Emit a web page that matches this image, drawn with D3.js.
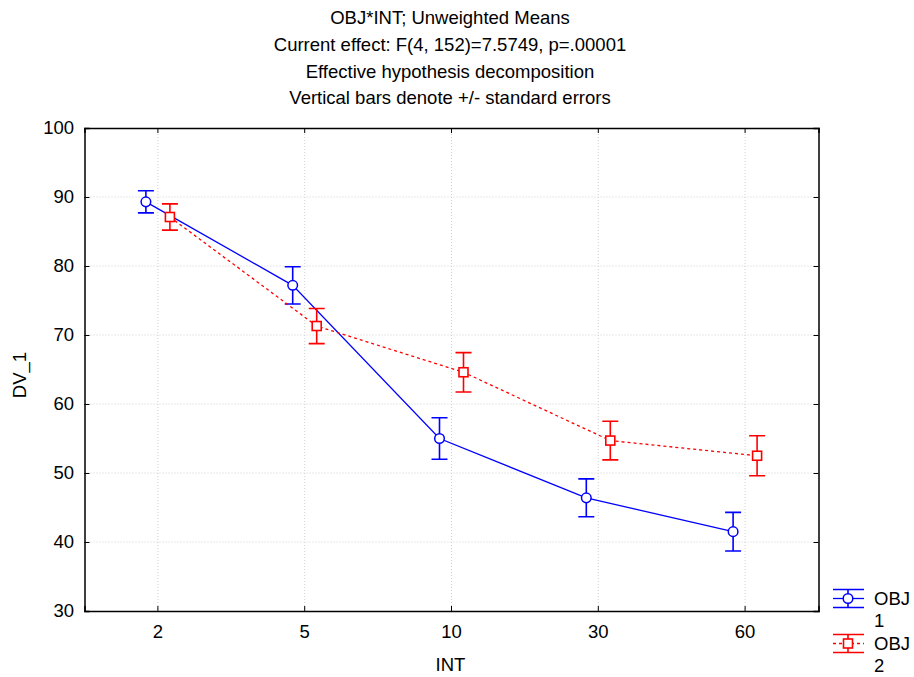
<!DOCTYPE html>
<html><head><meta charset="utf-8">
<script src="https://cdn.jsdelivr.net/npm/d3@7"></script>
<style>body{margin:0;background:#fff;}svg{display:block;font-family:"Liberation Sans",Arial,sans-serif;}</style>
</head><body>
<script>
const categories = ["2","5","10","30","60"];
const obj1Means = [89.3, 77.2, 55.0, 46.4, 41.5];
const obj1SE = [1.6, 2.7, 3.0, 2.75, 2.8];
const obj2Means = [87.1, 71.3, 64.6, 54.7, 52.5];
const obj2SE = [1.9, 2.55, 2.85, 2.8, 2.9];
const yTicks = [30, 40, 50, 60, 70, 80, 90, 100];
const titleLines = ["OBJ*INT; Unweighted Means","Current effect: F(4, 152)=7.5749, p=.00001","Effective hypothesis decomposition","Vertical bars denote +/- standard errors"];

const W = 914, H = 677, FS = 18.5;
const m = {left: 84.5, right: 818.5, top: 128, bottom: 611};
const svg = d3.select("body").append("svg").attr("width", W).attr("height", H);

const x = d3.scaleBand().domain(categories).range([m.left, m.right]);
const y = d3.scaleLinear().domain([30, 100]).range([m.bottom, m.top]);
const cx = c => x(c) + x.bandwidth() / 2;

// grid
const g = svg.append("g");
g.selectAll(".hg").data(yTicks.slice(1, -1)).join("line")
  .attr("x1", m.left).attr("x2", m.right).attr("y1", d => y(d)).attr("y2", d => y(d))
  .attr("stroke", "#d0d0d0").attr("stroke-width", 1).attr("stroke-dasharray", "1,2");
g.selectAll(".vg").data(categories).join("line")
  .attr("x1", d => cx(d)).attr("x2", d => cx(d)).attr("y1", m.top).attr("y2", m.bottom)
  .attr("stroke", "#d0d0d0").attr("stroke-width", 1).attr("stroke-dasharray", "1,2");

// axes (ticks inside)
const tick = 5;
const axL = svg.append("g").attr("transform", `translate(${m.left},0)`)
  .call(d3.axisLeft(y).tickValues(yTicks).tickSize(-tick).tickPadding(10.5));
const axR = svg.append("g").attr("transform", `translate(${m.right},0)`)
  .call(d3.axisRight(y).tickValues(yTicks).tickSize(-tick).tickFormat(""));
const axB = svg.append("g").attr("transform", `translate(0,${m.bottom})`)
  .call(d3.axisBottom(x).tickSize(-tick).tickPadding(13.5));
const axT = svg.append("g").attr("transform", `translate(0,${m.top})`)
  .call(d3.axisTop(x).tickSize(-tick).tickFormat(""));
[axL, axR, axB, axT].forEach(a => {
  a.select(".domain").attr("stroke", "#000").attr("stroke-width", 1.5);
  a.selectAll(".tick line").attr("stroke", "#000").attr("stroke-width", 1);
  a.selectAll("text").attr("font-size", FS).attr("fill", "#000").attr("font-family", "Liberation Sans, Arial, sans-serif");
});
axB.selectAll("text").attr("dy", "0.71em");

// titles
const titleBase = [24, 51, 77.5, 104];
svg.append("g").selectAll("text").data(titleLines).join("text")
  .attr("x", 450).attr("y", (d, i) => titleBase[i])
  .attr("text-anchor", "middle").attr("font-size", FS).attr("fill", "#000").text(d => d);

svg.append("text").attr("x", 450.5).attr("y", 671).attr("text-anchor", "middle")
  .attr("font-size", FS).text("INT");
svg.append("text").attr("transform", "translate(25.5,375) rotate(-90)").attr("text-anchor", "middle")
  .attr("font-size", FS).text("DV_1");

// series
const series = [
  {name: "1", means: obj1Means, se: obj1SE, color: "#0000ff", dash: null, off: -12, shape: "circle"},
  {name: "2", means: obj2Means, se: obj2SE, color: "#ff0000", dash: "3,3", off: 12, shape: "square"}
];
series.forEach(s => {
  const pts = categories.map((c, i) => ({x: cx(c) + s.off, m: s.means[i], se: s.se[i]}));
  const sg = svg.append("g");
  sg.append("path").datum(pts)
    .attr("d", d3.line().x(d => d.x).y(d => y(d.m)))
    .attr("fill", "none").attr("stroke", s.color).attr("stroke-width", 1.3)
    .attr("stroke-dasharray", s.dash);
  sg.selectAll(".eb").data(pts).join("path")
    .attr("d", d => `M${d.x},${y(d.m + d.se)}V${y(d.m - d.se)}M${d.x - 8},${y(d.m + d.se)}H${d.x + 8}M${d.x - 8},${y(d.m - d.se)}H${d.x + 8}`)
    .attr("stroke", s.color).attr("stroke-width", 1.6).attr("fill", "none");
  if (s.shape === "circle") {
    sg.selectAll(".mk").data(pts).join("circle")
      .attr("cx", d => d.x).attr("cy", d => y(d.m)).attr("r", 4.8)
      .attr("fill", "#fff").attr("stroke", s.color).attr("stroke-width", 1.5);
  } else {
    sg.selectAll(".mk").data(pts).join("rect")
      .attr("x", d => d.x - 4.5).attr("y", d => y(d.m) - 4.5).attr("width", 9).attr("height", 9)
      .attr("fill", "#fff").attr("stroke", s.color).attr("stroke-width", 1.6);
  }
});

// legend
const lg = svg.append("g");
series.forEach((s, i) => {
  const ly = 598.5 + i * 45, lx0 = 833, lx1 = 864, lc = 848;
  const gg = lg.append("g");
  gg.append("line").attr("x1", lx0).attr("x2", lx1).attr("y1", ly).attr("y2", ly)
    .attr("stroke", s.color).attr("stroke-width", 1.3).attr("stroke-dasharray", s.dash);
  gg.append("path").attr("d", `M${lx0},${ly - 9}H${lx1}M${lx0},${ly + 9}H${lx1}M${lc},${ly - 9}V${ly + 9}`)
    .attr("stroke", s.color).attr("stroke-width", 1.6);
  if (s.shape === "circle") gg.append("circle").attr("cx", lc).attr("cy", ly).attr("r", 4.8).attr("fill", "#fff").attr("stroke", s.color).attr("stroke-width", 1.5);
  else gg.append("rect").attr("x", lc - 4.5).attr("y", ly - 4.5).attr("width", 9).attr("height", 9).attr("fill", "#fff").attr("stroke", s.color).attr("stroke-width", 1.6);
  gg.append("text").attr("x", 874).attr("y", ly + 6.5).attr("font-size", FS).text("OBJ");
  gg.append("text").attr("x", 874).attr("y", ly + 28).attr("font-size", FS).text(s.name);
});
</script>
</body></html>
